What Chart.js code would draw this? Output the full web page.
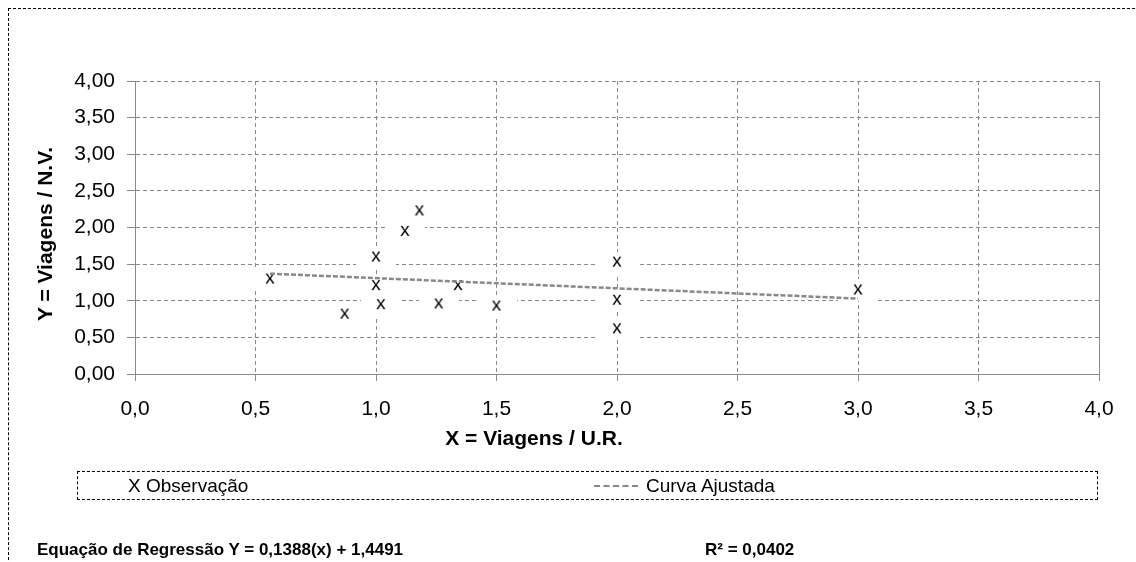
<!DOCTYPE html>
<html>
<head>
<meta charset="utf-8">
<script src="https://cdn.jsdelivr.net/npm/chart.js@4/dist/chart.umd.min.js"></script>
<style>
  body { margin: 0; background: #fff; font-family: "Liberation Sans", Arial, sans-serif; }
  #wrap { position: relative; width: 1136px; height: 562px; overflow: hidden; }
  #frame { position: absolute; left: 8px; top: 8px; width: 1200px; height: 600px; border: 1px dashed #000; }
  #chart { position: absolute; left: 0; top: 0; }
  #legend { position: absolute; left: 77px; top: 471px; width: 1019px; height: 27px; border: 1px dashed #000; }
  .txt { position: absolute; white-space: nowrap; color: #000; }
  .leg { font-size: 19px; top: 475px; }
  .eq { font-size: 17px; font-weight: bold; top: 540px; }
  #xtitle { left: 434px; width: 200px; text-align: center; top: 426px; font-size: 21px; line-height: 24px; font-weight: bold; }
  #ytitle { left: -55px; width: 200px; text-align: center; top: 222px; font-size: 21px; line-height: 24px; font-weight: bold; transform: rotate(-90deg); }
  #sample { position: absolute; left: 594px; top: 485px; width: 44px; border-top: 2px dashed #888; }
</style>
</head>
<body>
<div id="wrap">
  <canvas id="chart" width="1136" height="562"></canvas>
  <div id="frame"></div>
  <div class="txt" id="xtitle">X = Viagens / U.R.</div>
  <div class="txt" id="ytitle">Y = Viagens / N.V.</div>
  <div id="legend"></div>
  <div class="txt leg" style="left:128px">X Observação</div>
  <div id="sample"></div>
  <div class="txt leg" style="left:646px">Curva Ajustada</div>
  <div class="txt eq" style="left:37px">Equação de Regressão Y = 0,1388(x) + 1,4491</div>
  <div class="txt eq" style="left:705px">R² = 0,0402</div>
</div>
<script>
// observações (X = Viagens / U.R., Y = Viagens / N.V.)
const obsX = [0.56, 0.87, 1.00, 1.00, 1.02, 1.12, 1.18, 1.26, 1.34, 1.50, 2.00, 2.00, 2.00, 3.00];
const obsY = [1.29, 0.81, 1.59, 1.20, 0.94, 1.94, 2.22, 0.95, 1.20, 0.92, 1.52, 1.00, 0.61, 1.14];

// curva ajustada (extremos)
const fitX = [0.56, 3.00];
const fitY = [1.37, 1.03];

const xTickLabels = ['0,0', '0,5', '1,0', '1,5', '2,0', '2,5', '3,0', '3,5', '4,0'];
const yTickLabels = ['0,00', '0,50', '1,00', '1,50', '2,00', '2,50', '3,00', '3,50', '4,00'];

const FONT = '"Liberation Sans", Arial, sans-serif';
const GRID = '#8a8a8a';

// marcador "x" com fundo branco (como rótulo do Excel)
function makeMark() {
  const c = document.createElement('canvas');
  c.width = 40;
  c.height = 22;
  const g = c.getContext('2d');
  g.fillStyle = '#fff';
  g.fillRect(0, 0, c.width, c.height);
  g.fillStyle = '#000';
  g.font = '19px ' + FONT;
  g.textAlign = 'center';
  g.textBaseline = 'middle';
  g.fillText('x', c.width / 2, c.height / 2 - 1);
  return c;
}

const rightBorder = {
  id: 'rightBorder',
  afterDatasetsDraw(chart) {
    const { ctx, chartArea } = chart;
    ctx.save();
    ctx.strokeStyle = GRID;
    ctx.lineWidth = 1;
    ctx.beginPath();
    ctx.moveTo(Math.round(chartArea.right) + 0.5, chartArea.top);
    ctx.lineTo(Math.round(chartArea.right) + 0.5, chartArea.bottom);
    ctx.stroke();
    ctx.restore();
  }
};

const ctx = document.getElementById('chart').getContext('2d');
new Chart(ctx, {
  type: 'scatter',
  data: {
    datasets: [
      {
        label: 'Curva Ajustada',
        type: 'line',
        data: fitX.map((x, i) => ({ x: x, y: fitY[i] })),
        borderColor: '#888',
        borderWidth: 2.5,
        borderDash: [5, 2],
        pointRadius: 0,
        fill: false,
        order: 0
      },
      {
        label: 'X Observação',
        data: obsX.map((x, i) => ({ x: x, y: obsY[i] })),
        pointStyle: makeMark(),
        order: 1
      }
    ]
  },
  plugins: [rightBorder],
  options: {
    responsive: false,
    animation: false,
    layout: { padding: { left: 57, top: 81, right: 37, bottom: 113 } },
    plugins: { legend: { display: false }, tooltip: { enabled: false } },
    scales: {
      x: {
        type: 'linear',
        min: 0,
        max: 4,
        afterFit(scale) { scale.height = 75; },
        afterBuildTicks(scale) { scale.ticks = xTickLabels.map((t, i) => ({ value: i * 0.5 })); },
        ticks: {
          color: '#000',
          padding: 16,
          font: { family: FONT, size: 21 },
          callback: (v, i) => xTickLabels[i]
        },
        grid: { color: GRID, tickLength: 7, tickColor: GRID },
        border: { display: true, color: GRID, width: 1, dash: [4, 3] }
      },
      y: {
        min: 0,
        max: 4,
        afterFit(scale) { scale.width = 78; },
        afterBuildTicks(scale) { scale.ticks = yTickLabels.map((t, i) => ({ value: i * 0.5 })); },
        ticks: {
          color: '#000',
          padding: 12,
          font: { family: FONT, size: 21 },
          callback: (v, i) => yTickLabels[i]
        },
        grid: { color: GRID, tickLength: 8, tickColor: GRID },
        border: { display: true, color: GRID, width: 1, dash: [4, 3] }
      }
    }
  }
});
</script>
</body>
</html>
